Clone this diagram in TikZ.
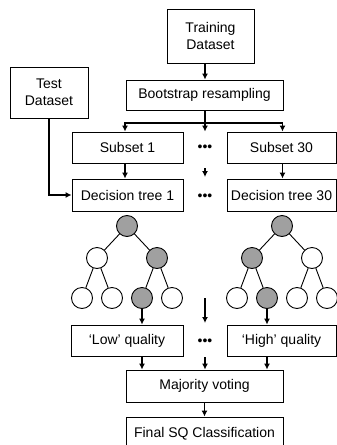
\documentclass[tikz,border=0pt]{standalone}
\usepackage{fontspec}
\setmainfont{Liberation Sans}
\usetikzlibrary{arrows.meta}
\usetikzlibrary{positioning}
\definecolor{leafgray}{RGB}{160,160,160}
\tikzstyle{box} = [
    draw=black,
    line width=0.9pt,
    align=center,
    inner sep=0pt,
    font=\fontsize{14}{17}\selectfont
]
\tikzstyle{white_node} = [
    circle,
    draw=black,
    fill=white,
    line width=0.9pt,
    inner sep=0pt,
    minimum size=21pt
]
\tikzstyle{gray_node} = [
    circle,
    draw=black,
    fill=leafgray,
    line width=0.9pt,
    inner sep=0pt,
    minimum size=21pt
]
\tikzstyle{flow} = [
    line width=1.8pt,
    -{Latex[length=6pt,width=6pt]}
]
\tikzstyle{dots} = [
    inner sep=0pt,
    font=\fontsize{14}{17}\selectfont
]

\begin{document}
\begin{tikzpicture}[
    x=1pt, y=1pt,
    level/.style={
        sibling distance = 60pt/#1
    },
    level 1/.style={level distance = 32pt},
    level 2/.style={level distance = 40pt},
    edge from parent/.style={draw, line width=0.9pt}
]
\useasboundingbox (0,0) rectangle (337,-445);

% boxes
\node [box, minimum width=87pt, minimum height=54pt] (train) at (210.5,-36) {Training\\Dataset};
\node [box, minimum width=78pt, minimum height=51pt] (test) at (49,-92.5) {Test\\Dataset};
\node [box, minimum width=157pt, minimum height=30pt] (boot) at (204.5,-95) {Bootstrap resampling};
\node [box, minimum width=111pt, minimum height=31pt] (sub1) at (127.5,-147.5) {Subset 1};
\node [box, minimum width=109pt, minimum height=31pt] (sub30) at (281.5,-147.5) {Subset 30};
\node [box, minimum width=111pt, minimum height=32pt] (dt1) at (127.5,-195) {Decision tree 1};
\node [box, minimum width=109pt, minimum height=32pt] (dt30) at (281.5,-195) {Decision tree 30};
\node [box, minimum width=112pt, minimum height=31pt] (low) at (127,-340.5) {`Low' quality};
\node [box, minimum width=109pt, minimum height=31pt] (high) at (281.5,-340.5) {`High' quality};
\node [box, minimum width=157pt, minimum height=32pt] (vote) at (204.5,-386) {Majority voting};
\node [box, minimum width=157pt, minimum height=34pt] (final) at (204.5,-434) {Final SQ Classification};

\node [dots] (dotsA) at (205,-148) {•••};
\node [dots] (dotsB) at (205,-197) {•••};
\node [dots] (dotsC) at (205,-342) {•••};

% trees
\node [gray_node] (root1) at (127,-226) {}
    child{ node [white_node] {}
        child{ node [white_node] {}}
        child{ node [white_node] {}}
    }
    child{ node [gray_node] {}
        child{ node [gray_node] (leaf1) {}}
        child{ node [white_node] {}}
    }
;
\node [gray_node] (root30) at (282,-226) {}
    child{ node [gray_node] {}
        child{ node [white_node] {}}
        child{ node [gray_node] (leaf30) {}}
    }
    child{ node [white_node] {}
        child{ node [white_node] {}}
        child{ node [white_node] {}}
    }
;

% connectors
\coordinate (bus_l) at (125,-123);
\coordinate (bus_m) at (205,-123);
\coordinate (bus_r) at (282.5,-123);
\coordinate (mid_a) at (205,-168);
\coordinate (mid_b) at (205,-177);
\coordinate (mid_c) at (205,-298);
\coordinate (mid_d) at (205,-323);
\coordinate (mid_e) at (205,-357);

\draw [flow] (train.south -| bus_m) -- (boot.north -| bus_m);
\draw [flow] (boot.south -| bus_m) -- (bus_m |- sub1.north);
\draw [flow] (bus_m) -| (bus_l |- sub1.north);
\draw [flow] (bus_m) -| (bus_r |- sub30.north);
\draw [flow] (sub1.south -| bus_l) -- (dt1.north -| bus_l);
\draw [flow] (sub30.south -| bus_r) -- (dt30.north -| bus_r);
\draw [flow] (mid_a) -- (mid_b);
\draw [flow] (test.south) |- (dt1.west);
\draw [flow] (leaf1) -- (leaf1 |- low.north);
\draw [flow] (leaf30) -- (leaf30 |- high.north);
\draw [flow] (mid_c) -- (mid_d);
\draw [flow] (low.south -| leaf1) -- (vote.north -| leaf1);
\draw [flow] (mid_e) -- (vote.north -| mid_e);
\draw [flow] (high.south -| leaf30) -- (vote.north -| leaf30);
\draw [flow] (vote.south) -- (final.north);
\end{tikzpicture}
\end{document}
